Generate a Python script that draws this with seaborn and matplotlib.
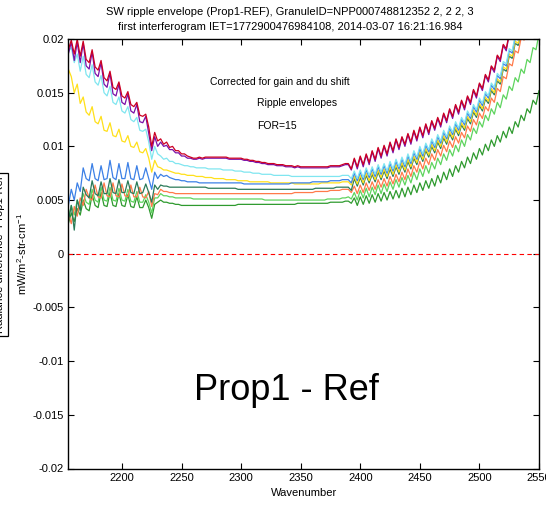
import numpy as np
import pandas as pd
import matplotlib
matplotlib.use("Agg")
import matplotlib.pyplot as plt
import seaborn as sns

# Ripple envelope values, stored in units of 1e-4 mW/m2-str-cm-1,
# one value per SW channel (2155 .. 2550 cm-1, 2.5 cm-1 spacing).
SCALE = 1e-4
wavenumber = np.arange(2155.0, 2550.0 + 1e-6, 2.5)

env_red = [
    190, 199, 186, 200, 184, 198, 181, 178, 190, 174, 171, 180, 164, 161, 170, 155,
    153, 160, 147, 145, 151, 139, 137, 141, 129, 128, 130, 118, 100, 113, 105,
    107, 102, 104, 99, 100, 96, 96, 93, 93, 91, 90, 89, 89, 90, 89, 90, 90, 90, 90, 90,
    90, 90, 90, 89, 89, 89, 89, 89, 88, 88, 87, 87, 86, 86, 85, 85, 84, 84, 84, 83,
    83, 83, 82, 82, 82, 81, 82, 81, 81, 81, 81, 81, 81, 81, 81, 81, 81, 82, 82, 82,
    82, 83, 84, 84, 79,
    89, 81, 91, 83, 93, 85, 96, 88, 99, 91, 101, 93, 104, 96, 107, 99, 109, 102, 112, 104,
    115, 107, 118, 110, 121, 113, 124, 117, 127, 120, 131, 124, 135, 128, 139, 132, 143, 136,
    147, 141, 153, 147, 159, 154, 167, 162, 175, 171, 185, 181, 195, 191, 205, 202, 217, 214,
    229, 226, 241, 238, 253, 250, 265,
]
env_purple = [
    186, 197, 180, 197, 178, 196, 175, 172, 188, 168, 165, 178, 158, 155, 168, 149,
    147, 158, 141, 139, 149, 133, 131, 139, 123, 122, 128, 112, 96, 109, 100,
    104, 100, 101, 97, 97, 94, 94, 91, 91, 89, 89, 88, 88, 89, 88, 89, 89, 89, 89, 89,
    89, 89, 89, 88, 88, 88, 88, 88, 87, 87, 86, 86, 85, 85, 84, 84, 83, 83, 83, 82,
    82, 82, 81, 81, 81, 80, 81, 80, 80, 80, 80, 80, 80, 80, 80, 80, 80, 81, 81, 81,
    81, 82, 83, 83, 78,
    88, 79, 90, 81, 92, 83, 95, 86, 98, 89, 100, 91, 103, 94, 106, 97, 108, 100, 111, 102,
    114, 105, 117, 108, 120, 111, 123, 115, 126, 118, 130, 122, 134, 126, 138, 130, 142, 134,
    146, 139, 152, 145, 158, 152, 166, 160, 174, 169, 184, 179, 194, 189, 204, 200, 216, 212,
    228, 224, 240, 236, 252, 248, 264,
]
env_cyan = [
    188, 192, 178, 186, 170, 184, 167, 164, 176, 160, 157, 166, 150, 147, 156, 141,
    139, 146, 133, 131, 137, 125, 123, 127, 115, 114, 116, 104, 88, 100, 93,
    91, 88, 89, 86, 86, 84, 84, 83, 82, 82, 81, 81, 80, 80, 80, 80, 79, 79, 79, 79,
    79, 78, 78, 78, 78, 77, 77, 77, 76, 76, 76, 75, 75, 75, 74, 74, 74, 74, 73, 73,
    73, 73, 73, 73, 72, 72, 72, 72, 72, 72, 72, 72, 72, 72, 72, 72, 72, 72, 72, 72,
    72, 73, 73, 73, 70,
    77, 70, 78, 71, 80, 73, 81, 74, 83, 76, 84, 77, 86, 79, 88, 81, 90, 83, 93, 86,
    96, 90, 100, 93, 103, 97, 107, 101, 111, 105, 115, 109, 119, 113, 123, 117, 127, 122,
    133, 128, 139, 134, 145, 140, 151, 147, 159, 155, 168, 165, 179, 177, 191, 189, 203, 201,
    215, 213, 227, 225, 239, 237, 251,
]
env_yellow = [
    172, 165, 150, 158, 140, 146, 132, 129, 137, 123, 121, 128, 115, 114, 122, 110,
    109, 116, 105, 104, 110, 100, 99, 104, 95, 94, 98, 89, 76, 87, 81,
    80, 78, 78, 77, 76, 75, 75, 74, 74, 73, 73, 73, 72, 72, 72, 71, 71, 71, 70, 70,
    70, 70, 69, 69, 69, 69, 68, 68, 68, 68, 67, 67, 67, 67, 67, 67, 67, 66, 66, 66,
    66, 66, 66, 66, 66, 65, 65, 65, 65, 65, 65, 65, 65, 65, 66, 66, 66, 66, 66, 66,
    66, 67, 67, 67, 64,
    72, 65, 73, 66, 75, 68, 76, 69, 78, 71, 79, 72, 81, 74, 83, 76, 85, 78, 88, 81,
    91, 85, 95, 88, 98, 92, 102, 96, 106, 100, 110, 104, 114, 108, 118, 112, 122, 117,
    128, 123, 134, 129, 140, 135, 146, 142, 154, 150, 163, 160, 174, 172, 186, 184, 198, 196,
    210, 208, 222, 220, 234, 232, 246,
]
env_blue = [
    45, 60, 50, 66, 58, 80, 70, 68, 84, 70, 68, 82, 69, 70, 87, 71,
    69, 84, 70, 70, 85, 70, 69, 82, 69, 70, 80, 70, 60, 76, 70,
    74, 72, 73, 71, 70, 69, 69, 68, 68, 67, 67, 67, 67, 66, 66, 66, 66, 66, 66, 66,
    66, 66, 66, 66, 66, 66, 66, 66, 65, 65, 65, 65, 65, 65, 65, 65, 65, 65, 65, 65,
    65, 65, 65, 65, 66, 66, 66, 66, 66, 66, 66, 67, 67, 67, 67, 67, 67, 68, 68, 68,
    68, 69, 69, 69, 66,
    75, 68, 76, 69, 78, 71, 79, 72, 81, 74, 82, 75, 84, 77, 86, 79, 88, 81, 91, 84,
    94, 88, 98, 91, 101, 95, 105, 99, 109, 103, 113, 107, 117, 111, 121, 115, 125, 120,
    131, 126, 137, 132, 143, 138, 149, 145, 157, 153, 166, 163, 177, 175, 189, 187, 201, 199,
    213, 211, 225, 223, 237, 235, 249,
]
env_teal = [
    30, 45, 22, 50, 40, 62, 55, 52, 68, 56, 54, 67, 56, 56, 70, 57,
    56, 69, 57, 57, 68, 57, 56, 67, 56, 57, 65, 57, 48, 64, 60,
    64, 63, 63, 62, 62, 62, 62, 62, 62, 62, 62, 62, 62, 62, 62, 62, 61, 61, 61, 61,
    61, 61, 61, 61, 61, 61, 60, 60, 60, 60, 60, 60, 60, 60, 60, 60, 60, 60, 60, 60,
    60, 60, 60, 60, 60, 60, 60, 60, 60, 60, 60, 60, 61, 61, 61, 61, 61, 61, 61, 62,
    62, 62, 62, 62, 59,
    70, 63, 71, 64, 73, 66, 74, 67, 76, 69, 77, 70, 79, 72, 81, 74, 83, 76, 86, 79,
    89, 83, 93, 86, 96, 90, 100, 94, 104, 98, 108, 102, 112, 106, 116, 110, 120, 115,
    126, 121, 132, 127, 138, 133, 144, 140, 152, 148, 161, 158, 172, 170, 184, 182, 196, 194,
    208, 206, 220, 218, 232, 230, 244,
]
env_orange = [
    38, 28, 44, 35, 52, 45, 60, 52, 50, 64, 53, 52, 66, 54, 53, 66,
    54, 53, 65, 54, 53, 64, 53, 53, 62, 53, 52, 58, 44, 56, 55,
    60, 58, 58, 57, 57, 56, 56, 56, 56, 56, 56, 56, 56, 56, 56, 56, 56, 56, 56, 56,
    56, 56, 56, 56, 56, 56, 56, 56, 56, 56, 56, 56, 56, 56, 56, 56, 56, 56, 56, 56,
    56, 56, 56, 56, 56, 57, 57, 57, 57, 57, 57, 57, 58, 58, 58, 58, 58, 59, 59, 59,
    59, 60, 60, 60, 57,
    63, 56, 64, 57, 66, 59, 67, 60, 69, 62, 70, 63, 72, 65, 74, 67, 76, 69, 79, 72,
    82, 76, 86, 79, 89, 83, 93, 87, 97, 91, 101, 95, 105, 99, 109, 103, 113, 108,
    119, 114, 125, 120, 131, 126, 137, 133, 145, 141, 154, 151, 165, 163, 177, 175, 189, 187,
    201, 199, 213, 211, 225, 223, 237,
]
env_lightgreen = [
    32, 45, 36, 50, 42, 56, 48, 46, 60, 50, 48, 62, 50, 49, 62, 50,
    49, 61, 50, 49, 60, 49, 48, 58, 48, 48, 55, 48, 38, 52, 52,
    56, 54, 54, 53, 53, 52, 52, 52, 52, 52, 52, 51, 51, 51, 51, 51, 51, 51, 51, 51,
    51, 51, 51, 51, 51, 51, 51, 51, 51, 51, 51, 51, 51, 51, 51, 50, 50, 50, 50, 50,
    50, 50, 50, 50, 50, 50, 50, 50, 50, 50, 50, 50, 50, 50, 50, 50, 51, 51, 51, 51,
    51, 52, 52, 53, 51,
    57, 50, 59, 52, 61, 53, 62, 55, 64, 56, 65, 58, 67, 60, 69, 62, 71, 64, 73, 66,
    76, 69, 79, 72, 82, 75, 85, 79, 89, 83, 93, 87, 97, 91, 101, 95, 106, 100,
    111, 106, 117, 112, 123, 118, 129, 124, 135, 130, 141, 136, 148, 144, 156, 152, 164, 160,
    172, 168, 181, 178, 192, 190, 205,
]
env_green = [
    28, 38, 30, 42, 36, 50, 42, 40, 55, 45, 43, 57, 45, 44, 57, 45,
    44, 56, 45, 44, 55, 44, 43, 53, 43, 43, 50, 43, 33, 46, 48,
    50, 48, 48, 47, 47, 46, 46, 45, 45, 45, 45, 45, 45, 45, 45, 45, 45, 45, 45, 45,
    45, 45, 45, 45, 45, 45, 46, 46, 46, 46, 46, 46, 46, 46, 46, 46, 46, 46, 46, 46,
    46, 46, 46, 46, 46, 46, 47, 47, 47, 47, 47, 47, 47, 47, 47, 47, 47, 48, 48, 48,
    48, 48, 49, 49, 47,
    52, 45, 53, 46, 54, 47, 55, 48, 56, 49, 57, 50, 58, 51, 59, 52, 61, 53, 62, 55,
    64, 57, 66, 59, 68, 61, 70, 63, 73, 66, 76, 69, 79, 72, 82, 76, 86, 80,
    90, 84, 94, 88, 98, 92, 102, 96, 106, 100, 110, 104, 114, 108, 118, 112, 123, 118,
    129, 124, 135, 131, 143, 139, 152,
]

# drawing order: bottom-most first, red last so it sits on top
series = {
    "green": env_green,
    "lightgreen": env_lightgreen,
    "orange": env_orange,
    "teal": env_teal,
    "yellow": env_yellow,
    "blue": env_blue,
    "cyan": env_cyan,
    "purple": env_purple,
    "red": env_red,
}
palette = {
    "green": "#2E9A2E",
    "lightgreen": "#5ED45E",
    "orange": "#FF7A4A",
    "teal": "#2A7A58",
    "yellow": "#FFE01A",
    "blue": "#3C80E6",
    "cyan": "#80E6F0",
    "purple": "#7A10A8",
    "red": "#CC0022",
}

ytick_values = [-0.02, -0.015, -0.01, -0.005, 0, 0.005, 0.01, 0.015, 0.02]
ytick_labels = ["-0.02", "-0.015", "-0.01", "-0.005", "0", "0.005", "0.01", "0.015", "0.02"]
xtick_values = [2200, 2250, 2300, 2350, 2400, 2450, 2500, 2550]

for name, vals in series.items():
    assert len(vals) == len(wavenumber), (name, len(vals))

frames = []
for name, vals in series.items():
    frames.append(pd.DataFrame({
        "Wavenumber": wavenumber,
        "Envelope": np.asarray(vals, dtype=float) * SCALE,
        "series": name,
    }))
df = pd.concat(frames, ignore_index=True)

sns.set_style("ticks")
plt.rcParams["font.family"] = ["Liberation Sans", "DejaVu Sans"]
plt.rcParams["mathtext.fontset"] = "custom"
plt.rcParams["mathtext.rm"] = "Liberation Sans"
plt.rcParams["mathtext.it"] = "Liberation Sans"
plt.rcParams["mathtext.default"] = "regular"
plt.rcParams["text.color"] = "black"
plt.rcParams["axes.labelcolor"] = "black"
plt.rcParams["xtick.color"] = "black"
plt.rcParams["ytick.color"] = "black"

W, H = 546, 505
fig = plt.figure(figsize=(W / 100, H / 100), dpi=100)
fig.patch.set_facecolor("white")
ax = fig.add_axes([68.3 / W, 36.5 / H, 470.7 / W, 429.5 / H])

sns.lineplot(
    data=df, x="Wavenumber", y="Envelope", hue="series",
    hue_order=list(series.keys()), palette=palette,
    estimator=None, sort=False, legend=False, linewidth=0.9, ax=ax,
)

ax.axhline(0, color="red", linestyle=(0, (4, 3)), linewidth=0.8)

ax.set_xlim(2155, 2550)
ax.set_ylim(-0.02, 0.02)
ax.set_xticks(xtick_values)
ax.set_yticks(ytick_values)
ax.set_yticklabels(ytick_labels)
ax.tick_params(direction="in", top=True, right=True, length=4, width=0.8,
               labelsize=8, colors="black", pad=3)
for sp in ax.spines.values():
    sp.set_color("black")
    sp.set_linewidth(1.0)

ax.set_xlabel("Wavenumber", fontsize=8, labelpad=4, color="black")
ax.set_ylabel("")

fig.text(290 / W, 1 - 12 / H,
         "SW ripple envelope (Prop1-REF), GranuleID=NPP000748812352 2, 2 2, 3",
         ha="center", va="center", fontsize=8, color="black")
fig.text(290 / W, 1 - 27 / H,
         "first interferogram IET=1772900476984108, 2014-03-07 16:21:16.984",
         ha="center", va="center", fontsize=8, color="black")

fig.text(22 / W, 1 - 254 / H, r"mW/m$^{2}$-str-cm$^{-1}$", rotation=90,
         ha="center", va="center", fontsize=8, color="black")
fig.text(4.6 / W, 1 - 254.5 / H, "Radiance difference  Prop1-Ref", rotation=90,
         ha="right", va="center", fontsize=8, color="black",
         bbox=dict(boxstyle="square,pad=0.3", facecolor="white", edgecolor="black",
                   linewidth=0.9))

ax.text(2273.9, 0.0160, "Corrected for gain and du shift", fontsize=7.5,
        ha="left", va="center", color="black")
ax.text(2313.1, 0.01404, "Ripple envelopes", fontsize=7.5, ha="left", va="center",
        color="black")
ax.text(2313.1, 0.01193, "FOR=15", fontsize=7.5, ha="left", va="center", color="black")
ax.text(2338.1, -0.01362, "Prop1 - Ref", fontsize=26, ha="center", va="baseline",
        color="black")

fig.savefig("out.png", dpi=100, facecolor="white")
